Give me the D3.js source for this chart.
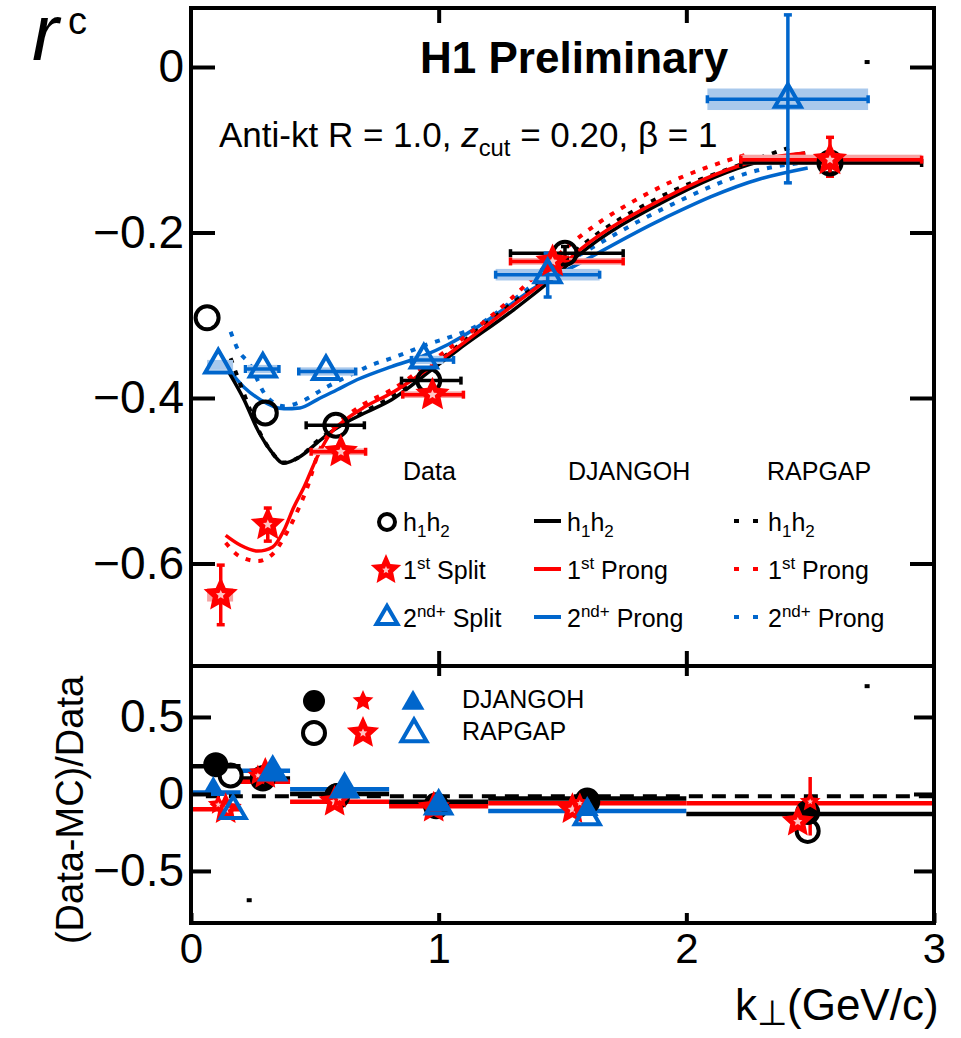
<!DOCTYPE html>
<html>
<head>
<meta charset="utf-8">
<script src="https://cdn.jsdelivr.net/npm/d3@7"></script>
<style>
body { margin: 0; background: #fff; }
svg { display: block; }
text { font-family: "Liberation Sans", Arial, Helvetica, sans-serif; fill: #000; }
</style>
</head>
<body>
<svg id="chart" width="961" height="1038"></svg>
<script>
// ---- data: upper panel, measured points ----
var hK   = [0.065, 0.30, 0.585, 0.96, 1.51, 2.58];
var hR   = [-0.303, -0.418, -0.433, -0.379, -0.225, -0.116];
var hXlo = [0.065, 0.30, 0.465, 0.85, 1.29, 2.22];
var hXhi = [0.065, 0.30, 0.70, 1.09, 1.745, 2.95];
var hEup = [0, 0, 0, 0, 0.008, 0.012];
var hEdn = [0, 0, 0, 0, 0.008, 0.012];

var s1K   = [0.12, 0.31, 0.605, 0.975, 1.46, 2.58];
var s1R   = [-0.638, -0.553, -0.465, -0.396, -0.235, -0.112];
var s1Xlo = [0.12, 0.31, 0.485, 0.855, 1.29, 2.22];
var s1Xhi = [0.12, 0.31, 0.705, 1.10, 1.745, 2.95];
var s1Eup = [0.036, 0.02, 0.008, 0.008, 0.01, 0.027];
var s1Edn = [0.036, 0.02, 0.008, 0.008, 0.01, 0.02];
var s1SysLo = [0.065, 0.28, 0.485, 0.855, 1.29, 2.22];
var s1SysHi = [0.17, 0.34, 0.705, 1.10, 1.745, 2.95];
var s1SysD  = [0.008, 0.004, 0.004, 0.004, 0.004, 0.006];

var s2K   = [0.11, 0.29, 0.545, 0.94, 1.44, 2.41];
var s2R   = [-0.36, -0.365, -0.368, -0.354, -0.251, -0.039];
var s2Xlo = [0.11, 0.22, 0.435, 0.89, 1.23, 2.085];
var s2Xhi = [0.11, 0.355, 0.665, 1.06, 1.65, 2.734];
var s2Eup = [0, 0, 0, 0, 0.026, 0.102];
var s2Edn = [0, 0, 0, 0, 0.027, 0.101];
var s2SysLo = [0.065, 0.23, 0.44, 0.89, 1.23, 2.085];
var s2SysHi = [0.17, 0.35, 0.66, 1.02, 1.65, 2.734];
var s2SysD  = [0.006, 0.005, 0.005, 0.005, 0.007, 0.013];

// ---- model curves ----
var djHK = [0.153, 0.214, 0.27, 0.32, 0.375, 0.44, 0.51, 0.565, 0.63, 0.71, 0.81, 0.98, 1.077, 1.30, 1.44, 1.57, 1.895, 2.30, 2.48];
var djHR = [-0.369, -0.402, -0.439, -0.463, -0.479, -0.471, -0.454, -0.441, -0.429, -0.417, -0.402, -0.364, -0.342, -0.294, -0.261, -0.226, -0.165, -0.114, -0.104];
var rgHK = [0.16, 0.214, 0.27, 0.32, 0.375, 0.44, 0.51, 0.565, 0.63, 0.71, 0.81, 0.98, 1.30, 1.44, 1.57, 1.895, 2.22, 2.44];
var rgHR = [-0.352, -0.395, -0.437, -0.463, -0.478, -0.471, -0.452, -0.44, -0.428, -0.415, -0.399, -0.36, -0.285, -0.254, -0.218, -0.157, -0.118, -0.095];
var dj1K = [0.14, 0.2, 0.27, 0.33, 0.375, 0.415, 0.456, 0.51, 0.565, 0.62, 0.70, 0.81, 0.98, 1.30, 1.44, 1.57, 1.895, 2.30, 2.48];
var dj1R = [-0.566, -0.578, -0.585, -0.58, -0.56, -0.532, -0.508, -0.471, -0.442, -0.427, -0.411, -0.394, -0.36, -0.288, -0.256, -0.221, -0.161, -0.112, -0.104];
var rg1K = [0.14, 0.2, 0.27, 0.335, 0.375, 0.444, 0.47, 0.51, 0.565, 0.62, 0.70, 0.81, 0.98, 1.30, 1.37, 1.57, 1.895, 2.25];
var rg1R = [-0.575, -0.592, -0.597, -0.587, -0.569, -0.527, -0.508, -0.47, -0.44, -0.424, -0.407, -0.39, -0.354, -0.278, -0.258, -0.205, -0.145, -0.105];
var dj2K = [0.153, 0.214, 0.28, 0.375, 0.44, 0.51, 0.59, 0.67, 0.81, 0.93, 1.04, 1.30, 1.37, 1.57, 1.895, 2.30, 2.49];
var dj2R = [-0.366, -0.387, -0.402, -0.413, -0.412, -0.402, -0.39, -0.378, -0.362, -0.350, -0.335, -0.285, -0.27, -0.237, -0.185, -0.135, -0.122];
var rg2K = [0.16, 0.19, 0.235, 0.30, 0.375, 0.44, 0.54, 0.645, 0.73, 0.81, 0.93, 1.17, 1.30, 1.44, 1.57, 1.895, 2.30, 2.49];
var rg2R = [-0.32, -0.342, -0.358, -0.396, -0.41, -0.405, -0.388, -0.372, -0.36, -0.352, -0.338, -0.31, -0.282, -0.25, -0.227, -0.173, -0.124, -0.115];

// ---- lower panel: (Data-MC)/Data ----
var binEdges = [0, 0.2, 0.4, 0.8, 1.2, 2.0, 3.0];
var stepBlack = [0.18, 0.10, 0.0, -0.05, -0.03, -0.13];
var stepRed   = [-0.10, 0.08, -0.05, -0.08, -0.06, -0.06];
var stepBlue  = [0.01, 0.15, 0.03, -0.06, -0.11, null];
var dashLevel = -0.015;

var djCircK = [0.10, 0.29, 0.59, 0.99, 1.60, 2.49];
var djCircV = [0.19, 0.105, -0.01, -0.07, -0.04, -0.12];
var rgCircK = [0.16, 0.29, 0.59, 0.99, 1.60, 2.49];
var rgCircV = [0.12, 0.10, -0.015, -0.08, -0.05, -0.24];
var djStarK = [0.11, 0.27, 0.60, 0.98, 1.57, 2.50];
var djStarV = [-0.07, 0.12, -0.03, -0.08, -0.06, -0.05];
var rgStarK = [0.14, 0.30, 0.58, 0.98, 1.54, 2.45];
var rgStarV = [-0.10, 0.13, -0.05, -0.09, -0.10, -0.18];
var djTriK = [0.09, 0.33, 0.62, 1.00, 1.60];
var djTriV = [0.03, 0.14, 0.03, -0.07, -0.10];
var rgTriK = [0.17, 0.33, 0.62, 1.00, 1.60];
var rgTriV = [-0.11, 0.14, 0.03, -0.08, -0.15];
var lastStarErrUp = 0.16, lastStarErrDn = 0.22;

var topTicks = [0, -0.2, -0.4, -0.6];
var lowTicks = [0.5, 0, -0.5];
var kTicks = [0, 1, 2, 3];

var BLACK = "#000", RED = "#ff0000", BLUE = "#0066cc";
var LRED = "#f7a3a3", LBLUE = "#a9c9ec";

var svg = d3.select("#chart");
var x = d3.scaleLinear().domain([0, 3]).range([191, 934]);
var yT = d3.scaleLinear().domain([-0.7239, 0.0713]).range([666, 8]);
var yB = d3.scaleLinear().domain([-0.838, 0.831]).range([923, 666]);

function starPath(r) {
    var pts = [];
    for (var i = 0; i < 10; i++) {
        var a = -Math.PI / 2 + i * Math.PI / 5;
        var rr = i % 2 === 0 ? r : r * 0.47;
        pts.push([(rr * Math.cos(a)).toFixed(2), (rr * Math.sin(a)).toFixed(2)]);
    }
    return "M" + pts.join("L") + "Z";
}
function triPath(w) {
    var h = w * Math.sqrt(3) / 2;
    return "M0," + (-2 * h / 3) + "L" + (w / 2) + "," + (h / 3) + "L" + (-w / 2) + "," + (h / 3) + "Z";
}
function zip(a, b) { return a.map(function (v, i) { return [v, b[i]]; }); }

function rich(sel, xx, yy, fs, parts) {
    var t = sel.append("text").attr("x", xx).attr("y", yy).attr("font-size", fs);
    var off = 0;
    parts.forEach(function (p) {
        var s = t.append("tspan").text(p[0]);
        var target = p[1] === "sup" ? -0.4 * fs : p[1] === "sub" ? 0.25 * fs : p[1] === "low" ? 0.12 * fs : 0;
        s.attr("dy", target - off);
        off = target;
        if (p[1] === "sup" || p[1] === "sub") s.attr("font-size", fs * 0.68);
        if (p[1] === "low") s.attr("font-size", fs * 0.8);
        if (p[1] === "i") s.attr("font-style", "italic");
    });
    return t;
}

// ---- upper panel curves ----
var gCurves = svg.append("g");
function curve(ks, rs, color, dotted) {
    var line = d3.line().x(function (d) { return x(d[0]); }).y(function (d) { return yT(d[1]); })
        .curve(d3.curveMonotoneX);
    gCurves.append("path").attr("d", line(zip(ks, rs)))
        .attr("fill", "none").attr("stroke", color)
        .attr("stroke-width", dotted ? 4 : 3.5)
        .attr("stroke-dasharray", dotted ? "5,8" : null);
}
curve(dj2K, dj2R, BLUE, false);
curve(rg2K, rg2R, BLUE, true);
curve(djHK, djHR, BLACK, false);
curve(rgHK, rgHR, BLACK, true);
curve(dj1K, dj1R, RED, false);
curve(rg1K, rg1R, RED, true);

// ---- upper panel data ----
var gData = svg.append("g");
function sysBoxes(ks, lo, hi, rs, d, color) {
    gData.selectAll(null).data(ks).enter().append("rect")
        .attr("x", function (k, i) { return x(lo[i]); })
        .attr("width", function (k, i) { return x(hi[i]) - x(lo[i]); })
        .attr("y", function (k, i) { return yT(rs[i] + d[i]); })
        .attr("height", function (k, i) { return Math.max(yT(rs[i] - d[i]) - yT(rs[i] + d[i]), 4); })
        .attr("fill", color);
}
function errBars(ks, rs, xlo, xhi, up, dn, color) {
    var cap = 4;
    ks.forEach(function (k, i) {
        var cy = yT(rs[i]), cx = x(k);
        if (xhi[i] > xlo[i]) {
            gData.append("line").attr("x1", x(xlo[i])).attr("x2", x(xhi[i])).attr("y1", cy).attr("y2", cy)
                .attr("stroke", color).attr("stroke-width", 3.5);
            [xlo[i], xhi[i]].forEach(function (e) {
                gData.append("line").attr("x1", x(e)).attr("x2", x(e)).attr("y1", cy - cap).attr("y2", cy + cap)
                    .attr("stroke", color).attr("stroke-width", 3.5);
            });
        }
        if (up[i] > 0 || dn[i] > 0) {
            var y1 = yT(rs[i] + up[i]), y2 = yT(rs[i] - dn[i]);
            gData.append("line").attr("x1", cx).attr("x2", cx).attr("y1", y1).attr("y2", y2)
                .attr("stroke", color).attr("stroke-width", 3.5);
            [y1, y2].forEach(function (e) {
                gData.append("line").attr("x1", cx - cap).attr("x2", cx + cap).attr("y1", e).attr("y2", e)
                    .attr("stroke", color).attr("stroke-width", 3.5);
            });
        }
    });
}
sysBoxes(s2K, s2SysLo, s2SysHi, s2R, s2SysD, LBLUE);
sysBoxes(s1K, s1SysLo, s1SysHi, s1R, s1SysD, LRED);
errBars(hK, hR, hXlo, hXhi, hEup, hEdn, BLACK);
errBars(s1K, s1R, s1Xlo, s1Xhi, s1Eup, s1Edn, RED);
errBars(s2K, s2R, s2Xlo, s2Xhi, s2Eup, s2Edn, BLUE);

function circles(g, ks, vs, yS, r, filled) {
    g.selectAll(null).data(ks).enter().append("circle")
        .attr("cx", function (k) { return x(k); })
        .attr("cy", function (k, i) { return yS(vs[i]); })
        .attr("r", r)
        .attr("fill", filled ? BLACK : "none").attr("stroke", BLACK).attr("stroke-width", 4);
}
function stars(g, ks, vs, yS, r) {
    var sel = g.selectAll(null).data(ks).enter().append("g")
        .attr("transform", function (k, i) { return "translate(" + x(k) + "," + yS(vs[i]) + ")"; });
    sel.append("path").attr("d", starPath(r)).attr("fill", RED);
    sel.append("path").attr("d", starPath(r * 0.28)).attr("fill", "#ffc4c4");
}
function tris(g, ks, vs, yS, w, filled) {
    g.selectAll(null).data(ks).enter().append("path")
        .attr("transform", function (k, i) { return "translate(" + x(k) + "," + yS(vs[i]) + ")"; })
        .attr("d", triPath(filled ? w : w - 4))
        .attr("fill", filled ? BLUE : "none").attr("stroke", BLUE).attr("stroke-width", filled ? 0 : 4)
        .attr("stroke-linejoin", "miter");
}
circles(gData, hK, hR, yT, 11.5, false);
stars(gData, s1K, s1R, yT, 18);
tris(gData, s2K, s2R, yT, 30, false);

// ---- lower panel ----
var gLow = svg.append("g");
function steps(vals, color) {
    vals.forEach(function (v, i) {
        if (v === null) return;
        gLow.append("line").attr("x1", x(binEdges[i])).attr("x2", x(binEdges[i + 1]))
            .attr("y1", yB(v)).attr("y2", yB(v)).attr("stroke", color).attr("stroke-width", 4.5);
    });
}
steps(stepBlue, BLUE);
steps(stepBlack, BLACK);
steps(stepRed, RED);
gLow.append("line").attr("x1", x(0.06)).attr("x2", x(3)).attr("y1", yB(dashLevel)).attr("y2", yB(dashLevel))
    .attr("stroke", BLACK).attr("stroke-width", 4).attr("stroke-dasharray", "14,9");

// red vertical error on last small star
gLow.append("line").attr("x1", x(djStarK[5])).attr("x2", x(djStarK[5]))
    .attr("y1", yB(djStarV[5] + lastStarErrUp)).attr("y2", yB(djStarV[5] - lastStarErrDn))
    .attr("stroke", RED).attr("stroke-width", 3.5);

circles(gLow, djCircK, djCircV, yB, 10.5, true);
circles(gLow, rgCircK, rgCircV, yB, 11, false);
stars(gLow, rgStarK, rgStarV, yB, 17);
stars(gLow, djStarK, djStarV, yB, 11);
tris(gLow, djTriK, djTriV, yB, 23, true);
tris(gLow, rgTriK, rgTriV, yB, 29, false);

// stray tick remnants seen in the original
var strayK = [2.73, 2.73, 0.235];
var strayP = ["t", "b", "b"];
var strayV = [0.006, 0.70, -0.69];
strayK.forEach(function (k, i) {
    var yy = strayP[i] === "t" ? yT(strayV[i]) : yB(strayV[i]);
    svg.append("rect").attr("x", x(k) - 2.5).attr("y", yy - 2).attr("width", 5).attr("height", 4).attr("fill", BLACK);
});

// ---- axes ----
function styleAxis(g, fs) {
    g.select(".domain").remove();
    g.selectAll(".tick line").attr("stroke", BLACK).attr("stroke-width", 4);
    g.selectAll(".tick text").attr("font-size", fs).attr("fill", BLACK)
        .attr("font-family", "'Liberation Sans', Arial, Helvetica, sans-serif");
}
var fmt = function (d) { return d === 0 ? "0" : d3.format(".1f")(d); };
styleAxis(svg.append("g").attr("transform", "translate(191,0)")
    .call(d3.axisLeft(yT).tickValues(topTicks).tickSize(-24).tickPadding(7).tickFormat(fmt)), 46);
styleAxis(svg.append("g").attr("transform", "translate(934,0)")
    .call(d3.axisRight(yT).tickValues(topTicks).tickSize(-24).tickFormat("")), 46);
styleAxis(svg.append("g").attr("transform", "translate(0,8)")
    .call(d3.axisTop(x).tickValues([1, 2]).tickSize(-15).tickFormat("")), 40);
styleAxis(svg.append("g").attr("transform", "translate(0,666)")
    .call(d3.axisBottom(x).tickValues([1, 2]).tickSize(-15).tickFormat("")), 40);
styleAxis(svg.append("g").attr("transform", "translate(0,666)")
    .call(d3.axisBottom(x).tickValues([1, 2]).tickSize(10).tickFormat("")), 40);
styleAxis(svg.append("g").attr("transform", "translate(191,0)")
    .call(d3.axisLeft(yB).tickValues(lowTicks).tickSize(-20).tickPadding(7).tickFormat(fmt)), 46);
styleAxis(svg.append("g").attr("transform", "translate(934,0)")
    .call(d3.axisRight(yB).tickValues(lowTicks).tickSize(-20).tickFormat("")), 46);
styleAxis(svg.append("g").attr("transform", "translate(0,923)")
    .call(d3.axisBottom(x).tickValues(kTicks).tickSize(-10).tickPadding(10).tickFormat(d3.format("d"))), 42);

// frame
svg.append("rect").attr("x", 191).attr("y", 8).attr("width", 743).attr("height", 915)
    .attr("fill", "none").attr("stroke", BLACK).attr("stroke-width", 4);
svg.append("line").attr("x1", 191).attr("x2", 934).attr("y1", 666).attr("y2", 666)
    .attr("stroke", BLACK).attr("stroke-width", 4);

// ---- texts ----
svg.append("text").attr("x", 420).attr("y", 73).attr("font-size", 44).attr("font-weight", "bold").text("H1 Preliminary");
rich(svg, 219, 147, 35, [["Anti-kt R = 1.0, ", "n"], ["z", "i"], ["cut", "sub"], [" = 0.20, β = 1", "n"]]);

svg.append("text").attr("x", 32).attr("y", 60).attr("font-size", 80).attr("font-style", "italic").text("r");
svg.append("text").attr("x", 68).attr("y", 34).attr("font-size", 38).text("c");
svg.append("text").attr("transform", "translate(83,810) rotate(-90)").attr("text-anchor", "middle")
    .attr("font-size", 38).text("(Data-MC)/Data");
rich(svg, 735, 1020, 44, [["k", "n"], ["⊥", "low"], ["(GeV/c)", "n"]]);

// ---- legend, upper ----
var legHeads = ["Data", "DJANGOH", "RAPGAP"];
var legHeadX = [403, 568, 767];
var legRowY = [522, 570, 618];
var legText = {
    data: [[["h", "n"], ["1", "sub"], ["h", "n"], ["2", "sub"]],
           [["1", "n"], ["st", "sup"], [" Split", "n"]],
           [["2", "n"], ["nd+", "sup"], [" Split", "n"]]],
    mc: [[["h", "n"], ["1", "sub"], ["h", "n"], ["2", "sub"]],
         [["1", "n"], ["st", "sup"], [" Prong", "n"]],
         [["2", "n"], ["nd+", "sup"], [" Prong", "n"]]]
};
var legColors = [BLACK, RED, BLUE];
var gLeg = svg.append("g");
legHeads.forEach(function (h, i) {
    gLeg.append("text").attr("x", legHeadX[i]).attr("y", 480).attr("font-size", 25).text(h);
});
legRowY.forEach(function (yy, i) {
    rich(gLeg, 403, yy + 9, 25, legText.data[i]);
    rich(gLeg, 567, yy + 9, 25, legText.mc[i]);
    rich(gLeg, 768, yy + 9, 25, legText.mc[i]);
    gLeg.append("line").attr("x1", 534).attr("x2", 561).attr("y1", yy - 1).attr("y2", yy - 1)
        .attr("stroke", legColors[i]).attr("stroke-width", 4);
    gLeg.append("line").attr("x1", 734).attr("x2", 761).attr("y1", yy - 1).attr("y2", yy - 1)
        .attr("stroke", legColors[i]).attr("stroke-width", 4).attr("stroke-dasharray", "5,14");
});
gLeg.append("circle").attr("cx", 387).attr("cy", legRowY[0]).attr("r", 8)
    .attr("fill", "none").attr("stroke", BLACK).attr("stroke-width", 4);
var ls = gLeg.append("g").attr("transform", "translate(386," + legRowY[1] + ")");
ls.append("path").attr("d", starPath(16)).attr("fill", RED);
ls.append("path").attr("d", starPath(4)).attr("fill", "#ffc4c4");
gLeg.append("path").attr("transform", "translate(387," + legRowY[2] + ")").attr("d", triPath(21))
    .attr("fill", "none").attr("stroke", BLUE).attr("stroke-width", 4);

// ---- legend, lower ----
var lowLegY = [701, 733];
gLeg.append("circle").attr("cx", 314).attr("cy", lowLegY[0]).attr("r", 11).attr("fill", BLACK);
gLeg.append("circle").attr("cx", 314).attr("cy", lowLegY[1]).attr("r", 11)
    .attr("fill", "none").attr("stroke", BLACK).attr("stroke-width", 4);
var s1 = gLeg.append("g").attr("transform", "translate(363," + lowLegY[0] + ")");
s1.append("path").attr("d", starPath(11)).attr("fill", RED);
var s2 = gLeg.append("g").attr("transform", "translate(363," + lowLegY[1] + ")");
s2.append("path").attr("d", starPath(17)).attr("fill", RED);
s2.append("path").attr("d", starPath(4.5)).attr("fill", "#ffc4c4");
gLeg.append("path").attr("transform", "translate(413," + (lowLegY[0] + 2) + ")").attr("d", triPath(23)).attr("fill", BLUE);
gLeg.append("path").attr("transform", "translate(414," + (lowLegY[1] + 1) + ")").attr("d", triPath(25))
    .attr("fill", "none").attr("stroke", BLUE).attr("stroke-width", 4);
gLeg.append("text").attr("x", 462).attr("y", 708).attr("font-size", 25).text("DJANGOH");
gLeg.append("text").attr("x", 462).attr("y", 740).attr("font-size", 25).text("RAPGAP");
</script>
</body>
</html>
